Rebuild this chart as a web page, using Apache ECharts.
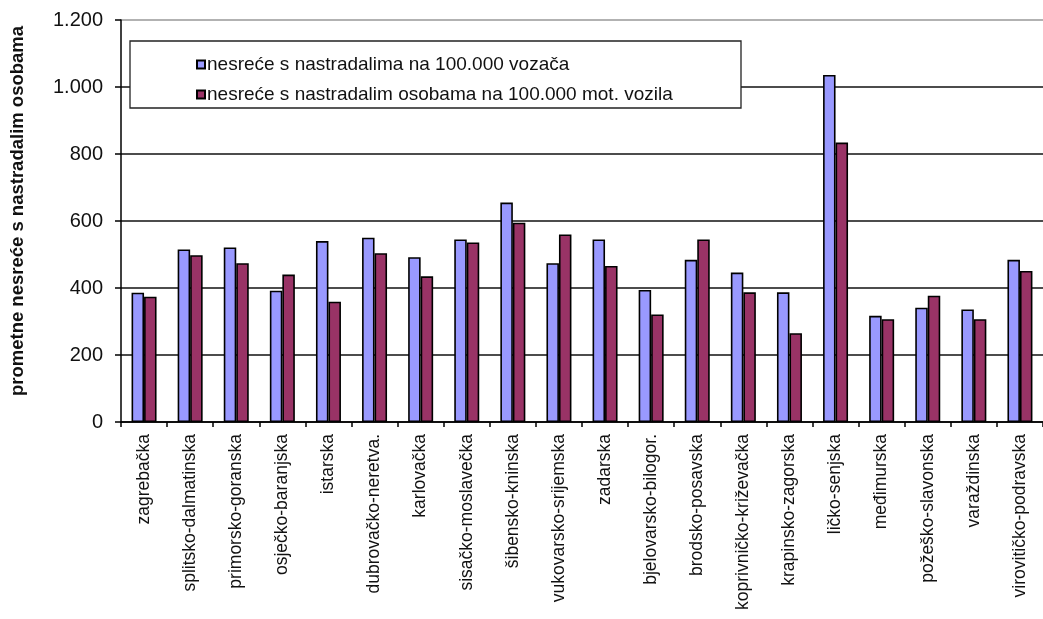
<!DOCTYPE html>
<html>
<head>
<meta charset="utf-8">
<script src="https://cdn.jsdelivr.net/npm/echarts@6/dist/echarts.min.js"></script>
<style>html,body{margin:0;padding:0;background:#fff}#c{width:1043px;height:619px}</style>
</head>
<body>
<div id="c"></div>
<script>
const categories = ["zagrebačka","splitsko-dalmatinska","primorsko-goranska","osječko-baranjska","istarska","dubrovačko-neretva.","karlovačka","sisačko-moslavečka","šibensko-kninska","vukovarsko-srijemska","zadarska","bjelovarsko-bilogor.","brodsko-posavska","koprivničko-križevačka","krapinsko-zagorska","ličko-senjska","međimurska","požeško-slavonska","varaždinska","virovitičko-podravska"];
const seriesNames = ["nesreće s nastradalima na 100.000 vozača","nesreće s nastradalim osobama na 100.000 mot. vozila"];
const perDrivers = [386,515,521,392,540,550,492,545,655,474,545,394,484,446,387,1036,317,341,336,484];
const perVehicles = [374,498,474,440,359,504,435,536,595,560,466,321,545,387,265,834,307,377,307,451];
const yTicks = [0,200,400,600,800,1000,1200];
const yAxisTitle = "prometne nesreće s nastradalim osobama";

const chart = echarts.init(document.getElementById('c'));
const fmt = v => v >= 1000 ? Math.floor(v/1000) + '.' + String(v%1000).padStart(3,'0') : String(v);
chart.setOption({
  animation:false,
  textStyle:{fontFamily:'Liberation Sans, Arial, sans-serif'},
  grid:{left:117, top:20, width:934, height:402, containLabel:false},
  graphic:[{type:'rect', shape:{x:130,y:41,width:611,height:67}, style:{fill:'#fff', stroke:'#222', lineWidth:1.3}, z:50}],
  legend:{
    orient:'vertical', left:191, top:50, itemWidth:8, itemHeight:8, itemGap:11, z:60,
    icon:'rect',
    textStyle:{fontSize:19, color:'#111', padding:[0,0,0,-3]},
    data:seriesNames
  },
  xAxis:{
    type:'category', data:categories,
    axisLine:{lineStyle:{color:'#000', width:1.5}},
    axisTick:{show:true, alignWithLabel:false, length:5, lineStyle:{color:'#000', width:1.5}},
    axisLabel:{rotate:90, interval:0, margin:12, fontSize:17.5, color:'#111'}
  },
  yAxis:{
    type:'value', min:yTicks[0], max:yTicks[yTicks.length-1], interval:200,
    name:yAxisTitle, nameLocation:'middle', nameGap:94, nameRotate:90,
    nameTextStyle:{fontSize:18.5, fontWeight:'bold', color:'#111', padding:[0,0,0,20]},
    axisLine:{show:true, lineStyle:{color:'#000', width:1.5}},
    axisTick:{show:true, length:6, lineStyle:{color:'#000', width:1.5}},
    axisLabel:{formatter:fmt, fontSize:20, color:'#111', margin:18},
    splitLine:{lineStyle:{color:['#000','#111','#111','#111','#111','#111','#999'], width:1.5}}
  },
  series:[
    {name:seriesNames[0], type:'bar', data:perDrivers, barWidth:12.5, barGap:'0%',
     itemStyle:{color:'#9999FF', borderColor:'#000', borderWidth:1.6}},
    {name:seriesNames[1], type:'bar', data:perVehicles, barWidth:12.5,
     itemStyle:{color:'#993366', borderColor:'#000', borderWidth:1.6}}
  ]
});
</script>
</body>
</html>
